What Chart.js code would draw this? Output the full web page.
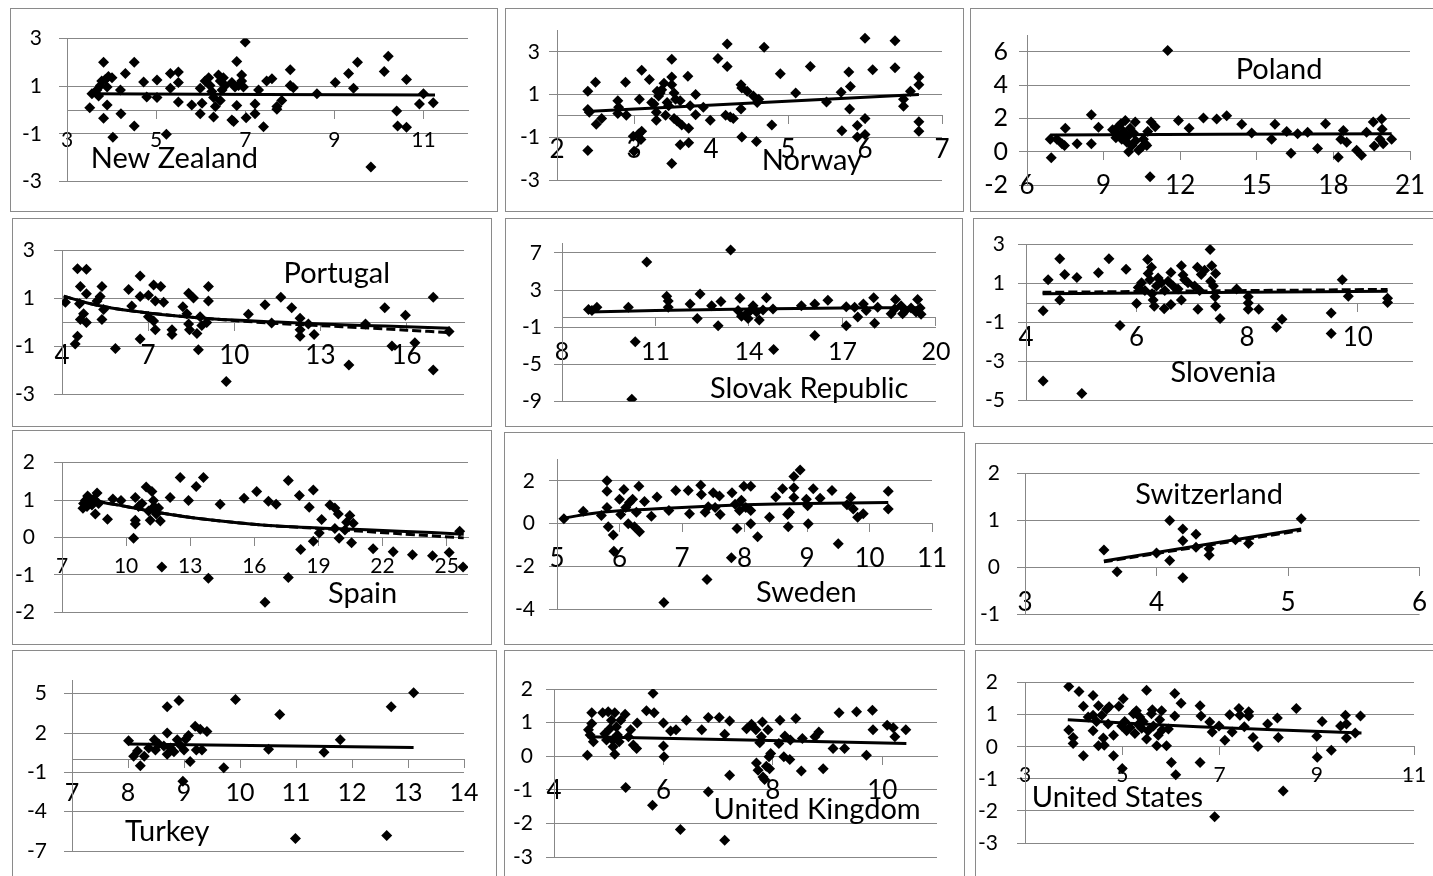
<!DOCTYPE html>
<html lang="en">

<head>
    <meta charset="UTF-8">
    <title>Country scatter panels</title>
    <script src="https://cdn.jsdelivr.net/npm/chart.js"></script>
    <style>
        html, body {
            margin: 0;
            padding: 0;
            background: #ffffff;
            overflow: hidden;
        }

        body {
            width: 1433px;
            height: 876px;
            position: relative;
        }

        .panel {
            position: absolute;
            box-sizing: border-box;
            border: 1px solid #8a8a8a;
            background: #ffffff;
        }

        .panel canvas {
            position: absolute;
            left: 0;
            top: 0;
        }
    </style>
</head>

<body>
    <script>
        // ---- data ----
        const countries = ["New Zealand", "Norway", "Poland", "Portugal", "Slovak Republic", "Slovenia",
            "Spain", "Sweden", "Switzerland", "Turkey", "United Kingdom", "United States"];

        const nzPoints = [[3.51, 0.09], [3.56, 0.68], [3.82, 2.01], [3.67, 0.84], [3.71, 0.59], [3.75, 1.03], [3.78, 1.22], [3.86, 1.28], [3.90, 0.97], [3.93, 1.41], [4.01, 1.35], [3.82, -0.35], [3.90, 0.21], [4.03, -1.14], [4.20, 0.84], [4.21, -0.16], [4.31, 1.53], [4.51, 2.01], [4.51, -0.67], [4.72, 1.18], [4.79, 0.55], [5.02, 1.26], [5.02, 0.53], [5.23, -1.02], [5.32, 0.91], [5.32, 1.53], [5.50, 1.60], [5.50, 1.16], [5.50, 0.34], [5.80, 0.21], [5.99, 0.91], [6.03, 0.28], [5.99, -0.16], [6.10, 1.22], [6.18, 1.35], [6.21, 1.03], [6.25, 0.78], [6.29, 0.53], [6.33, 0.15], [6.29, -0.29], [6.40, 1.47], [6.44, 1.22], [6.48, 0.84], [6.51, 1.35], [6.55, 1.03], [6.44, 0.40], [6.70, -0.42], [6.74, -0.48], [6.81, 2.04], [6.81, 0.19], [6.70, 1.16], [6.77, 0.97], [6.85, 1.03], [6.92, 1.47], [6.92, 1.22], [6.96, 0.97], [7.00, 2.86], [7.02, -0.33], [7.22, -0.16], [7.22, 0.25], [7.30, 0.84], [7.41, -0.70], [7.48, 1.22], [7.60, 1.31], [7.71, 0.03], [7.71, 0.15], [7.82, 0.40], [8.01, 1.69], [8.01, 1.03], [8.08, 0.93], [8.61, 0.68], [9.02, 1.16], [9.32, 1.53], [9.43, 0.91], [9.52, 2.01], [9.82, -2.40], [10.12, 1.62], [10.21, 2.26], [10.40, -0.04], [10.42, -0.67], [10.62, 1.28], [10.62, -0.73], [10.91, 0.25], [11.00, 0.68], [11.22, 0.30]];
        const nzTrend = [[3.52, 0.68], [11.26, 0.63]];

        const norwayPoints = [[2.40, 1.16], [2.50, 1.58], [2.40, 0.30], [2.42, 0.18], [2.51, -0.39], [2.58, -0.12], [2.40, -1.62], [2.79, 0.71], [2.80, 0.41], [2.79, 0.11], [2.89, 1.58], [2.90, 0.03], [2.99, -0.95], [3.00, -1.65], [3.06, -0.84], [3.10, -0.72], [3.09, -1.10], [3.10, 2.14], [3.07, 0.78], [3.20, 1.71], [3.23, 0.63], [3.26, 0.56], [3.29, 0.18], [3.29, -0.20], [3.30, 1.16], [3.32, 0.93], [3.34, 1.08], [3.36, 1.23], [3.39, 1.53], [3.41, 0.03], [3.43, 0.63], [3.45, 0.48], [3.49, 2.66], [3.49, 1.83], [3.49, 1.46], [3.49, -2.23], [3.52, 1.08], [3.54, 0.78], [3.52, -0.12], [3.56, -0.24], [3.60, 0.71], [3.60, -1.35], [3.62, -0.42], [3.70, 1.86], [3.71, -0.57], [3.71, -1.25], [3.73, 0.48], [3.80, 1.01], [3.80, 0.06], [3.90, 0.41], [3.99, -0.20], [4.09, 2.69], [4.21, 3.37], [4.21, 2.32], [4.19, 0.03], [4.25, -0.05], [4.29, -0.12], [4.39, 1.46], [4.40, 1.31], [4.39, 0.33], [4.40, -0.99], [4.47, 1.16], [4.55, 0.93], [4.59, -1.20], [4.60, 0.63], [4.62, 0.78], [4.69, 3.22], [4.79, -0.42], [4.90, 1.98], [5.10, 1.08], [5.29, 2.32], [5.50, 0.66], [5.69, 1.11], [5.70, -0.69], [5.79, 2.06], [5.80, 0.33], [5.81, 1.38], [5.90, -0.45], [5.90, -0.99], [6.00, 3.64], [6.00, -0.12], [6.00, -0.87], [6.10, 2.17], [6.39, 3.52], [6.39, 2.26], [6.50, 0.78], [6.50, 0.45], [6.59, 1.16], [6.70, 1.83], [6.70, 1.46], [6.70, -0.27], [6.70, -0.72]];
        const norwayTrend = [[2.38, 0.21], [6.70, 1.01]];

        const polandPoints = [[6.91, 0.75], [6.95, -0.37], [7.17, 0.75], [7.37, 0.47], [7.47, 0.37], [7.50, 1.40], [7.96, 0.47], [8.52, 2.21], [8.52, 0.47], [8.80, 1.46], [9.35, 1.31], [9.48, 0.84], [9.55, 1.03], [9.57, 1.50], [9.68, 1.68], [9.71, 0.75], [9.78, 1.21], [9.85, 1.87], [9.91, 0.56], [9.95, 0.93], [9.98, 0.00], [10.04, 1.40], [10.11, 0.37], [10.17, 1.12], [10.24, 1.78], [10.26, 0.65], [10.37, 0.09], [10.50, 0.28], [10.56, 0.75], [10.63, 0.47], [10.69, 0.37], [10.73, 1.21], [10.82, -1.50], [10.86, 1.78], [11.02, 1.50], [11.51, 6.07], [11.93, 1.87], [12.35, 1.40], [12.91, 2.02], [13.43, 1.96], [13.82, 2.15], [14.41, 1.64], [14.80, 1.12], [15.58, 0.75], [15.71, 1.64], [16.17, 1.21], [16.34, -0.09], [16.60, 1.08], [16.99, 1.16], [17.38, 0.19], [17.69, 1.68], [18.19, -0.34], [18.29, 0.75], [18.39, 1.27], [18.52, 0.56], [18.91, 0.09], [19.10, -0.22], [19.30, 1.16], [19.56, 1.78], [19.60, 0.34], [19.82, 0.75], [19.89, 1.96], [19.91, 1.35], [19.95, 0.47], [20.28, 0.75]];
        const polandTrend = [[6.91, 1.00], [20.28, 1.08]];

        const portugalPoints = [[4.12, 0.84], [4.54, 2.24], [4.85, 2.22], [4.64, 1.50], [4.61, 0.78], [4.85, 1.20], [4.75, 0.36], [4.64, 0.12], [4.85, 0.00], [4.46, -0.90], [4.54, -0.57], [5.22, 0.90], [5.33, 1.08], [5.39, 1.50], [5.45, 0.54], [5.39, 0.12], [5.86, -1.08], [6.32, 1.38], [6.43, 0.69], [6.72, 1.94], [6.72, 1.08], [6.72, -0.69], [7.01, 1.14], [7.19, 1.56], [7.44, 1.50], [7.25, 0.90], [7.54, 0.84], [7.01, 0.24], [7.19, 0.06], [7.25, -0.30], [7.83, -0.30], [7.83, -0.50], [8.21, 0.66], [8.41, 1.22], [8.58, 1.02], [8.35, 0.36], [8.41, -0.06], [8.44, -0.30], [8.70, -0.46], [8.75, -1.14], [8.81, 0.24], [8.87, -0.12], [9.04, 0.00], [9.10, 1.50], [9.10, 0.90], [9.72, -2.46], [10.49, 0.34], [11.07, 0.74], [11.30, -0.02], [11.62, 1.05], [12.00, 0.62], [12.29, 0.18], [12.29, -0.30], [12.29, -0.57], [12.58, -0.06], [12.78, -0.50], [13.99, -1.77], [14.57, -0.06], [15.24, 0.62], [15.49, -0.98], [15.96, 0.30], [16.29, -0.84], [16.93, 1.05], [16.93, -1.98], [17.48, -0.38]];
        const portugalTrend = [[4.06, 1.10], [5.0, 0.78], [6.0, 0.55], [7.0, 0.40], [8.5, 0.22], [10.0, 0.10], [11.5, 0.02], [13.0, -0.06], [14.5, -0.12], [16.0, -0.18], [17.5, -0.24]];
        const portugalDashed = [[4.06, 1.10], [5.0, 0.78], [6.0, 0.55], [7.0, 0.40], [8.5, 0.22], [10.0, 0.08], [11.5, -0.04], [13.0, -0.13], [14.5, -0.22], [16.0, -0.32], [17.5, -0.42]];

        const slovakPoints = [[8.85, 0.89], [8.96, 0.79], [9.12, 1.13], [10.13, 1.13], [10.35, -2.58], [10.24, -8.76], [10.72, 6.01], [11.36, 2.34], [11.41, 1.82], [11.41, 1.13], [12.11, 1.48], [12.34, -0.07], [12.43, 2.58], [12.80, 1.31], [13.01, -0.86], [13.10, 1.75], [13.41, 7.32], [13.71, 2.10], [13.65, 0.79], [13.76, 0.17], [13.92, 0.45], [13.97, -0.07], [14.05, 0.79], [14.13, 1.31], [14.24, 0.62], [14.33, -0.24], [14.45, 0.86], [14.56, 2.16], [14.77, 0.96], [14.79, -3.40], [15.68, 1.31], [16.11, -1.89], [16.11, 1.48], [16.53, 1.89], [17.12, 1.20], [17.12, -0.86], [17.39, 1.13], [17.49, 0.10], [17.67, 1.48], [17.76, 0.79], [18.00, 2.16], [18.03, -0.58], [18.13, 1.13], [18.56, 0.45], [18.67, 0.96], [18.70, 1.99], [18.88, 1.31], [18.93, 0.45], [19.02, 0.79], [19.20, 1.07], [19.36, 0.62], [19.41, 1.99], [19.49, 1.07], [19.52, 0.38]];
        const slovakTrend = [[8.85, 0.62], [11.0, 0.80], [14.0, 0.95], [17.0, 1.05], [19.52, 1.10]];

        const sloveniaPoints = [[4.31, -0.40], [4.31, -4.00], [4.40, 1.20], [4.61, 2.27], [4.61, 0.16], [4.70, 1.47], [4.92, 1.31], [5.01, -4.64], [5.31, 1.55], [5.50, 2.27], [5.70, -1.15], [5.81, 1.73], [6.00, -0.03], [6.03, 0.80], [6.09, 1.04], [6.15, 0.64], [6.20, 2.24], [6.21, 1.52], [6.24, 1.20], [6.27, 1.84], [6.28, 0.48], [6.30, 0.16], [6.32, -0.16], [6.36, 0.88], [6.39, 1.28], [6.45, 1.04], [6.50, -0.29], [6.51, 0.64], [6.57, 1.12], [6.62, 1.57], [6.62, -0.08], [6.66, 0.88], [6.75, 0.72], [6.81, 1.92], [6.81, 0.16], [6.84, 1.44], [6.87, 1.20], [6.93, 1.04], [7.05, 0.88], [7.10, 1.84], [7.11, -0.32], [7.14, 0.64], [7.17, 1.47], [7.23, 1.68], [7.33, 2.75], [7.36, 1.92], [7.34, 1.12], [7.39, 0.88], [7.42, 0.32], [7.43, 1.52], [7.43, -0.16], [7.51, -0.80], [7.81, 0.72], [8.02, 0.32], [8.02, 0.00], [8.02, -0.32], [8.21, -0.32], [8.53, -1.25], [8.63, -0.83], [9.52, -0.51], [9.52, -1.57], [9.72, 1.20], [9.83, 0.35], [10.54, 0.24], [10.54, 0.03]];
        const sloveniaTrend = [[4.30, 0.48], [10.54, 0.60]];
        const sloveniaDashed = [[4.30, 0.55], [10.54, 0.70]];

        const spainPoints = [[8.01, 0.91], [8.09, 0.99], [8.17, 0.83], [8.25, 1.07], [8.32, 0.95], [8.40, 0.87], [8.48, 1.03], [8.56, 0.63], [8.64, 1.19], [8.71, 0.91], [7.98, 0.78], [8.20, 1.11], [9.13, 0.49], [9.38, 1.03], [9.76, 0.99], [10.35, -0.02], [10.43, 1.07], [10.43, 0.46], [10.43, 0.36], [10.58, 0.83], [10.74, 0.91], [10.94, 1.35], [11.05, 0.71], [11.13, 0.46], [11.21, 1.23], [11.28, 0.99], [11.31, 0.83], [11.41, 0.63], [11.52, 0.79], [11.60, 0.44], [11.67, -0.79], [12.06, 1.07], [12.53, 1.60], [12.92, 0.99], [13.28, 1.36], [13.62, 1.60], [13.85, -1.09], [14.40, 0.89], [15.52, 1.05], [16.11, 1.23], [16.50, -1.73], [16.66, 0.97], [17.02, 0.89], [17.59, 1.52], [17.59, -1.07], [18.11, 1.12], [18.17, -0.32], [18.57, 0.81], [18.76, 1.27], [18.76, -0.10], [19.15, 0.48], [19.04, 0.12], [19.54, 0.87], [19.77, 0.79], [19.93, 0.63], [19.77, 0.24], [19.97, -0.02], [20.24, 0.20], [20.32, 0.41], [20.47, 0.59], [20.55, -0.14], [20.63, 0.38], [21.56, -0.30], [22.50, -0.38], [23.40, -0.46], [24.34, -0.49], [25.12, -0.40], [25.61, 0.17], [25.77, -0.79]];
        const spainTrend = [[8.0, 1.05], [9.0, 0.93], [10.0, 0.83], [11.5, 0.67], [13.5, 0.50], [16.5, 0.33], [19.7, 0.24], [22.8, 0.17], [25.8, 0.09]];
        const spainDashed = [[8.0, 1.05], [9.0, 0.93], [10.0, 0.83], [11.5, 0.67], [13.5, 0.50], [16.5, 0.33], [19.7, 0.22], [22.8, 0.10], [25.8, -0.01]];

        const swedenPoints = [[5.11, 0.23], [5.42, 0.58], [5.71, 0.38], [5.80, 2.01], [5.80, 1.52], [5.80, 0.76], [5.82, -0.15], [5.90, -0.53], [5.91, -1.29], [6.00, 1.14], [6.02, 0.43], [6.07, 1.60], [6.10, 0.76], [6.14, 0.00], [6.16, 0.99], [6.21, 1.14], [6.24, -0.15], [6.27, 0.53], [6.31, 1.75], [6.32, -0.38], [6.40, 1.04], [6.51, 0.34], [6.60, 1.25], [6.71, -3.69], [6.79, 0.61], [6.90, 1.55], [7.10, 1.55], [7.12, 0.46], [7.30, 1.80], [7.31, 1.37], [7.37, 0.53], [7.40, -2.62], [7.42, 0.79], [7.50, 1.45], [7.53, 0.76], [7.60, 1.29], [7.61, 0.43], [7.79, -1.60], [7.80, 1.45], [7.85, 0.91], [7.88, -0.23], [7.92, 0.61], [7.95, 1.10], [7.99, 1.75], [8.02, 0.76], [8.10, 1.75], [8.10, 0.00], [8.10, 0.61], [8.21, -0.61], [8.40, 0.30], [8.50, 1.25], [8.61, 1.63], [8.69, 0.43], [8.70, -0.15], [8.72, 0.53], [8.79, 2.21], [8.79, 1.68], [8.79, 1.22], [8.89, 2.51], [8.99, 1.14], [9.01, 0.84], [9.02, 0.00], [9.10, 1.64], [9.21, 1.19], [9.40, 1.55], [9.50, -0.94], [9.64, 0.88], [9.70, 1.22], [9.74, 0.69], [9.81, 0.30], [9.90, 0.46], [10.30, 1.52], [10.30, 0.69]];
        const swedenTrend = [[5.1, 0.25], [5.5, 0.45], [6.0, 0.60], [7.0, 0.76], [8.0, 0.88], [9.0, 0.94], [10.3, 0.99]];

        const switzerlandPoints = [[3.60, 0.37], [3.70, -0.09], [4.00, 0.31], [4.10, 1.00], [4.10, 0.15], [4.20, 0.82], [4.20, 0.57], [4.20, -0.22], [4.30, 0.71], [4.30, 0.43], [4.40, 0.40], [4.40, 0.26], [4.60, 0.59], [4.70, 0.51], [5.10, 1.04]];
        const switzerlandTrend = [[3.60, 0.14], [5.10, 0.82]];
        const switzerlandDashed = [[3.60, 0.12], [5.10, 0.79]];

        const turkeyPoints = [[8.01, 1.41], [8.10, 0.22], [8.17, 0.63], [8.22, -0.49], [8.29, 0.22], [8.37, 0.86], [8.47, 1.48], [8.49, 0.70], [8.55, 1.17], [8.64, 1.01], [8.70, 4.01], [8.70, 2.00], [8.70, 0.39], [8.76, 0.86], [8.82, 0.58], [8.88, 1.48], [8.91, 4.49], [8.94, 1.05], [8.98, -1.67], [9.00, 0.70], [9.03, 1.53], [9.08, 1.81], [9.11, -0.18], [9.20, 2.52], [9.22, 0.70], [9.29, 2.28], [9.32, 0.70], [9.41, 2.12], [9.71, -0.65], [9.92, 4.56], [10.51, 0.77], [10.71, 3.42], [10.99, -6.05], [11.50, 0.53], [11.79, 1.48], [12.62, -5.81], [12.70, 4.01], [13.10, 5.08]];
        const turkeyTrend = [[8.01, 1.17], [13.10, 0.89]];

        const ukPoints = [[4.61, 0.03], [4.69, 1.29], [4.69, 0.97], [4.66, 0.63], [4.72, 0.43], [4.63, 0.79], [4.89, 1.29], [4.93, 0.67], [4.96, 0.48], [4.99, 1.32], [5.02, 0.82], [5.05, 1.07], [5.07, 0.48], [5.08, 0.28], [5.11, 1.29], [5.11, 0.06], [5.14, 0.87], [5.16, 0.63], [5.19, 0.43], [5.22, 1.07], [5.30, 1.25], [5.31, -0.93], [5.36, 0.58], [5.40, 0.79], [5.45, 0.33], [5.51, 0.23], [5.52, 0.99], [5.69, 1.35], [5.80, -1.46], [5.81, 1.87], [5.83, 1.29], [6.00, 0.99], [6.00, 0.30], [6.01, -0.02], [6.13, 0.75], [6.23, 0.79], [6.31, -2.18], [6.42, 1.07], [6.70, 0.79], [6.82, 1.15], [6.82, -1.06], [7.02, 1.15], [7.12, 0.65], [7.12, -2.50], [7.21, 1.05], [7.21, -0.57], [7.52, 0.82], [7.61, 0.95], [7.69, 0.79], [7.70, -0.20], [7.73, -0.42], [7.76, 0.40], [7.79, 0.58], [7.81, 1.02], [7.82, -0.62], [7.85, -0.69], [7.88, -0.30], [7.91, 0.79], [7.93, -0.02], [7.94, -0.37], [7.96, 0.08], [8.11, 0.38], [8.13, 1.07], [8.20, -0.02], [8.22, 0.60], [8.31, -0.10], [8.32, 0.48], [8.42, 1.12], [8.52, -0.44], [8.54, 0.53], [8.77, 0.58], [8.84, 0.72], [8.92, -0.37], [9.10, 0.23], [9.21, 1.29], [9.31, 0.23], [9.53, 1.32], [9.71, 0.03], [9.82, 1.37], [9.83, 0.79], [10.09, 0.92], [10.20, 0.85], [10.23, 0.58], [10.43, 0.79]];
        const ukTrend = [[4.61, 0.58], [10.44, 0.38]];

        const usPoints = [[3.90, 1.88], [3.90, 0.52], [3.99, 0.29], [3.99, 0.10], [4.11, 1.72], [4.20, 1.26], [4.20, -0.28], [4.30, 0.93], [4.40, 1.60], [4.40, 0.98], [4.40, 0.50], [4.47, 0.79], [4.51, 1.28], [4.51, 0.03], [4.58, 0.98], [4.61, 0.27], [4.63, 0.05], [4.68, 1.17], [4.71, 0.71], [4.73, 1.25], [4.82, -0.28], [4.82, 0.36], [4.93, 1.26], [4.99, 0.65], [5.00, -0.68], [5.02, 1.50], [5.05, 0.79], [5.09, 0.50], [5.16, 0.60], [5.23, 1.03], [5.26, 0.41], [5.29, 1.12], [5.33, 0.69], [5.36, 0.93], [5.40, 0.58], [5.43, 0.79], [5.50, 1.76], [5.50, 0.24], [5.53, 0.50], [5.60, 1.03], [5.62, 1.15], [5.64, 0.65], [5.71, 0.03], [5.74, 0.36], [5.77, 0.84], [5.81, 1.12], [5.82, 0.52], [5.91, 0.03], [5.95, 0.55], [6.01, -0.49], [6.08, 1.66], [6.08, 0.96], [6.10, -0.87], [6.21, 1.36], [6.60, 1.28], [6.60, -0.49], [6.62, 0.96], [6.80, 0.77], [6.85, 0.46], [6.90, -2.18], [6.99, 0.65], [7.11, 0.20], [7.21, 1.00], [7.26, 0.46], [7.40, 1.19], [7.42, 0.98], [7.51, 0.62], [7.60, 1.09], [7.60, 0.96], [7.69, 0.29], [7.79, 0.01], [7.99, 0.71], [8.19, 0.90], [8.21, 0.29], [8.31, -1.38], [8.58, 1.19], [9.00, 0.33], [9.01, -0.33], [9.11, 0.79], [9.30, -0.11], [9.49, 0.65], [9.59, 0.98], [9.61, 0.27], [9.61, 0.71], [9.79, 0.43], [9.90, 0.96]];
        const usTrend = [[3.88, 0.84], [6.56, 0.62], [9.92, 0.43]];

        // axis ranges and tick labels
        const xRanges = [[3, 12], [2, 7], [6, 21], [4, 18], [8, 20], [4, 11], [7, 26], [5, 11], [3, 6], [7, 14], [4, 11], [3, 11]];
        const yRanges = [[-3, 3], [-3, 4], [-2, 7], [-3, 3], [-9, 8], [-5, 3], [-2, 2], [-4, 3], [-1, 2], [-7, 6], [-3, 2], [-3, 2]];
        const xTickValues = [
            [3, 5, 7, 9, 11], [2, 3, 4, 5, 6, 7], [6, 9, 12, 15, 18, 21], [4, 7, 10, 13, 16],
            [8, 11, 14, 17, 20], [4, 6, 8, 10], [7, 10, 13, 16, 19, 22, 25], [5, 6, 7, 8, 9, 10, 11],
            [3, 4, 5, 6], [7, 8, 9, 10, 11, 12, 13, 14], [4, 6, 8, 10], [3, 5, 7, 9, 11]
        ];
        const yTickValues = [
            [-3, -1, 1, 3], [-3, -1, 1, 3], [-2, 0, 2, 4, 6], [-3, -1, 1, 3],
            [-9, -5, -1, 3, 7], [-5, -3, -1, 1, 3], [-2, -1, 0, 1, 2], [-4, -2, 0, 2],
            [-1, 0, 1, 2], [-7, -4, -1, 2, 5], [-3, -2, -1, 0, 1, 2], [-3, -2, -1, 0, 1, 2]
        ];

        const pointSets = [nzPoints, norwayPoints, polandPoints, portugalPoints, slovakPoints, sloveniaPoints,
            spainPoints, swedenPoints, switzerlandPoints, turkeyPoints, ukPoints, usPoints];
        const trendSets = [nzTrend, norwayTrend, polandTrend, portugalTrend, slovakTrend, sloveniaTrend,
            spainTrend, swedenTrend, switzerlandTrend, turkeyTrend, ukTrend, usTrend];
        const dashedSets = [null, null, null, portugalDashed, null, sloveniaDashed,
            spainDashed, null, switzerlandDashed, null, null, null];

        // ---- page layout: box [l, t, r, b], plot area [l, t, r, b], label anchor in data units ----
        const layout = [
            { box: [10, 8, 498, 212], area: [67, 24, 468, 183], label: [5.41, -2.43], xFont: 21, yFont: 21, xDrop: 31, yGap: 25 },
            { box: [505, 8, 964, 212], area: [557, 25, 942, 180], label: [5.31, -2.53], xFont: 26, yFont: 21, xDrop: 34, yGap: 17 },
            { box: [970, 8, 1440, 212], area: [1027, 25, 1410, 186], label: [15.87, 4.34], xFont: 26, yFont: 25, xDrop: 34, yGap: 19 },
            { box: [12, 218, 492, 427], area: [62, 233, 464, 401], label: [13.57, 1.64], xFont: 26, yFont: 21, xDrop: 34, yGap: 27 },
            { box: [505, 218, 963, 427], area: [562, 241, 937, 406], label: [15.93, -8.66], xFont: 25, yFont: 21, xDrop: 35, yGap: 20 },
            { box: [973, 218, 1440, 427], area: [1026, 242, 1413, 408], label: [7.57, -4.05], xFont: 26, yFont: 21, xDrop: 35, yGap: 21 },
            { box: [12, 430, 492, 645], area: [62, 448, 468, 617], label: [21.07, -1.74], xFont: 21, yFont: 21, xDrop: 29, yGap: 27 },
            { box: [504, 432, 965, 645], area: [557, 456, 932, 609], label: [8.99, -3.65], xFont: 26, yFont: 21, xDrop: 35, yGap: 22 },
            { box: [975, 443, 1440, 645], area: [1025, 461, 1422, 622], label: [4.40, 1.36], xFont: 26, yFont: 21, xDrop: 36, yGap: 25 },
            { box: [12, 650, 497, 890], area: [72, 668, 464, 851], label: [8.70, -6.24], xFont: 25, yFont: 21, xDrop: 34, yGap: 25 },
            { box: [504, 650, 965, 890], area: [554, 689, 937, 857], label: [8.81, -1.88], xFont: 26, yFont: 21, xDrop: 35, yGap: 21 },
            { box: [975, 650, 1440, 890], area: [1025, 667, 1414, 843], label: [4.90, -1.87], xFont: 21, yFont: 21, xDrop: 29, yGap: 27 }
        ];

        const FONT = "Lato, 'Open Sans', sans-serif";
        const GRID = "#878787";

        function toXY(pairs) {
            return pairs.map(p => ({ x: p[0], y: p[1] }));
        }

        function buildPanel(i) {
            const L = layout[i];
            const [bl, bt, br, bb] = L.box;
            const div = document.createElement("div");
            div.className = "panel";
            div.style.left = bl + "px";
            div.style.top = bt + "px";
            div.style.width = (br - bl) + "px";
            div.style.height = (bb - bt) + "px";
            document.body.appendChild(div);

            const W = br - bl - 2, H = bb - bt - 2;
            const ox = bl + 1, oy = bt + 1;
            const canvas = document.createElement("canvas");
            canvas.width = W;
            canvas.height = H;
            canvas.style.width = W + "px";
            canvas.style.height = H + "px";
            div.appendChild(canvas);

            const [al, at, ar, ab] = L.area;
            const xTicks = xTickValues[i], yTicks = yTickValues[i];
            const xLine = L.xFont * 1.2;

            const datasets = [{
                data: toXY(trendSets[i]),
                showLine: true,
                borderColor: "#000000",
                borderWidth: 3,
                pointRadius: 0,
                tension: 0.3
            }];
            if (dashedSets[i]) {
                datasets.push({
                    data: toXY(dashedSets[i]),
                    showLine: true,
                    borderColor: "#000000",
                    borderWidth: 3,
                    borderDash: [9, 4],
                    pointRadius: 0,
                    tension: 0.3
                });
            }
            datasets.push({
                data: toXY(pointSets[i]),
                pointStyle: "rectRot",
                pointRadius: 5.5,
                backgroundColor: "#000000",
                borderColor: "#000000",
                borderWidth: 0,
                showLine: false
            });

            const countryLabel = {
                id: "countryLabel",
                afterDatasetsDraw(chart) {
                    const { ctx, scales } = chart;
                    ctx.save();
                    ctx.font = "29px " + FONT;
                    ctx.fillStyle = "#000000";
                    ctx.textAlign = "center";
                    ctx.textBaseline = "alphabetic";
                    ctx.fillText(countries[i], scales.x.getPixelForValue(L.label[0]), scales.y.getPixelForValue(L.label[1]));
                    ctx.restore();
                }
            };

            new Chart(canvas.getContext("2d"), {
                type: "scatter",
                data: { datasets },
                options: {
                    responsive: false,
                    animation: false,
                    devicePixelRatio: 1,
                    layout: {
                        padding: { left: 0, top: at - oy, right: (ox + W) - ar, bottom: (oy + H) - ab }
                    },
                    plugins: { legend: { display: false }, tooltip: { enabled: false } },
                    scales: {
                        x: {
                            type: "linear",
                            position: { y: 0 },
                            min: xRanges[i][0],
                            max: xRanges[i][1],
                            afterBuildTicks: s => { s.ticks = xTicks.map(v => ({ value: v })); },
                            grid: { display: true, drawOnChartArea: false, drawTicks: true, tickLength: 8, color: GRID },
                            border: { color: GRID, width: 1 },
                            ticks: {
                                autoSkip: false, maxRotation: 0, minRotation: 0,
                                color: "#000000",
                                font: { family: FONT, size: L.xFont },
                                padding: Math.max(0, L.xDrop - 8.5 - xLine / 2)
                            }
                        },
                        y: {
                            type: "linear",
                            position: "left",
                            min: yRanges[i][0],
                            max: yRanges[i][1],
                            afterBuildTicks: s => { s.ticks = yTicks.map(v => ({ value: v })); },
                            afterFit: s => { s.width = al - ox; },
                            grid: { color: GRID, drawTicks: true, tickLength: 8 },
                            border: { color: GRID, width: 1 },
                            ticks: {
                                color: "#000000",
                                font: { family: FONT, size: L.yFont },
                                padding: L.yGap - 8
                            }
                        }
                    }
                },
                plugins: [countryLabel]
            });
        }

        const start = () => { for (let i = 0; i < layout.length; i++) buildPanel(i); };
        if (document.fonts && document.fonts.load) {
            Promise.all([document.fonts.load("29px Lato"), document.fonts.load("21px Lato")]).then(start, start);
        } else {
            start();
        }
    </script>
</body>

</html>
